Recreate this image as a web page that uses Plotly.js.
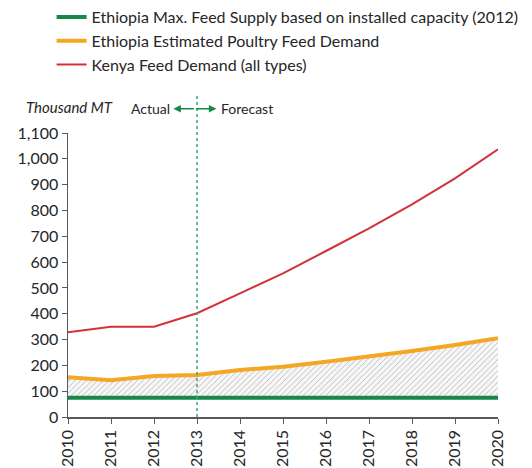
<!DOCTYPE html>
<html><head><meta charset="utf-8">
<script src="https://cdn.plot.ly/plotly-3.0.1.min.js"></script>
<style>html,body{margin:0;padding:0;background:#fff}#c{width:532px;height:468px}</style>
</head><body><div id="c"></div>
<script>
const years = [2010,2011,2012,2013,2014,2015,2016,2017,2018,2019,2020];
const ethiopiaSupply = [75,75,75,75,75,75,75,75,75,75,75];
const ethiopiaDemand = [154,142,159,163,182,195,214,234,256,279,305];
const kenyaDemand = [328,350,350,402,479,556,643,731,824,924,1037];
const seriesNames = ["Ethiopia Max. Feed Supply based on installed capacity (2012)","Ethiopia Estimated Poultry Feed Demand","Kenya Feed Demand (all types)"];
const F = "Lato, 'Open Sans', sans-serif";

const traces = [
  {x:years, y:ethiopiaSupply, name:seriesNames[0], mode:'lines', line:{color:'#16894a', width:4}, legendrank:1, legendgroup:'a'},
  {x:years, y:ethiopiaDemand, name:seriesNames[1], mode:'lines', line:{color:'#f5a623', width:4},
   fill:'tonexty', fillcolor:'rgba(0,0,0,0)', showlegend:false,
   fillpattern:{shape:'/', fgcolor:'#b0b0b0', bgcolor:'#f7f7f7', size:4, solidity:0.2}},
  {x:[null], y:[null], name:seriesNames[1], mode:'lines', line:{color:'#f5a623', width:4}, legendrank:2, legendgroup:'b'},
  {x:years, y:kenyaDemand, name:seriesNames[2], mode:'lines', line:{color:'#d2323a', width:2}, legendrank:3, legendgroup:'c'}
];

const layout = {
  width:532, height:468,
  margin:{l:68, r:34, t:133, b:51, autoexpand:false},
  paper_bgcolor:'#fff', plot_bgcolor:'#fff',
  font:{family:F, size:14, color:'#262626'},
  showlegend:true,
  legend:{xref:'container', yref:'container', x:0.097, y:1.0, xanchor:'left', yanchor:'top', traceorder:'normal',
          font:{family:F, size:16, color:'#262626'}, tracegroupgap:6, bgcolor:'rgba(0,0,0,0)'},
  xaxis:{range:[2010,2020], dtick:1, tickangle:-90, showgrid:false, zeroline:false,
         showline:true, linecolor:'#595959', linewidth:1.5, ticks:'outside', ticklen:5, tickcolor:'#595959',
         tickfont:{family:F, size:16, color:'#262626'}},
  yaxis:{range:[0,1100], dtick:100, tickformat:',', showgrid:false, zeroline:false,
         showline:true, linecolor:'#595959', linewidth:1.5, ticks:'outside', ticklen:5, tickcolor:'#595959',
         tickfont:{family:F, size:16, color:'#262626'}},
  shapes:[
    {type:'line', xref:'x', yref:'paper', x0:2013, x1:2013, y0:0, y1:1.14,
     line:{color:'#3aa765', width:1.5, dash:'dot'}}
  ],
  annotations:[
    {xref:'paper', yref:'paper', x:-0.102, y:1.09, xanchor:'left', yanchor:'middle', showarrow:false,
     text:'<i>Thousand MT</i>', font:{family:F, size:15, color:'#262626'}},
    {xref:'x', yref:'paper', x:2012.42, y:1.085, xanchor:'right', yanchor:'middle', showarrow:false,
     text:'Actual', font:{family:F, size:14, color:'#262626'}},
    {xref:'x', yref:'paper', x:2013.5, y:1.085, xanchor:'left', yanchor:'middle', showarrow:false,
     text:'Forecast', font:{family:F, size:14, color:'#262626'}},
    {xref:'x', yref:'paper', x:2012.45, y:1.085, ax:22, ay:0, showarrow:true, arrowhead:2, arrowsize:1,
     arrowwidth:1.5, arrowcolor:'#16894a', text:''},
    {xref:'x', yref:'paper', x:2013.45, y:1.085, ax:-22, ay:0, showarrow:true, arrowhead:2, arrowsize:1,
     arrowwidth:1.5, arrowcolor:'#16894a', text:''}
  ]
};
Plotly.newPlot('c', traces, layout, {displayModeBar:false, staticPlot:true});
</script></body></html>
